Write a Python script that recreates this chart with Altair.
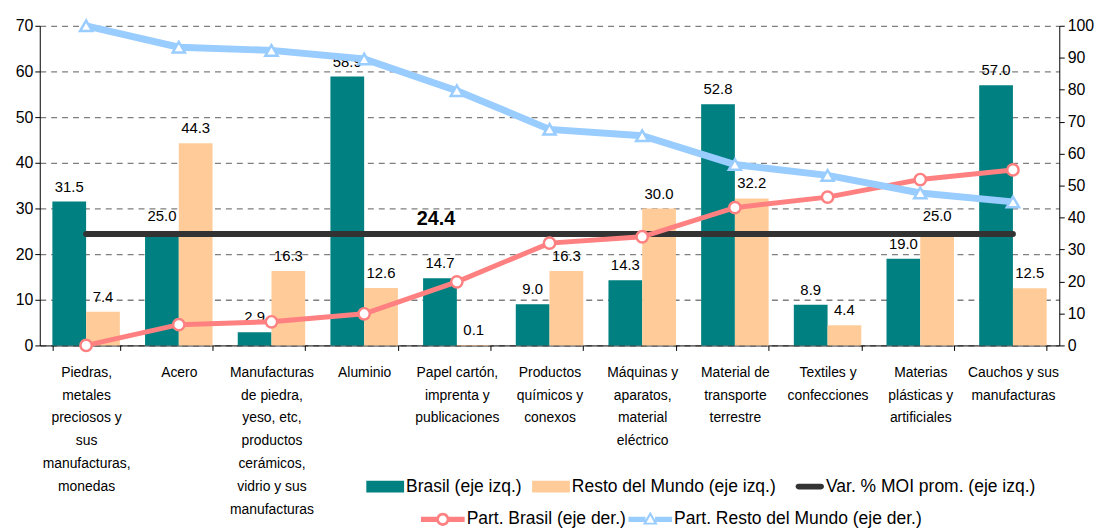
import altair as alt
import pandas as pd

FONT = "Liberation Sans, Arial, sans-serif"

cats = [
    "Piedras,\nmetales\npreciosos y\nsus\nmanufacturas,\nmonedas",
    "Acero",
    "Manufacturas\nde piedra,\nyeso, etc,\nproductos\ncerámicos,\nvidrio y sus\nmanufacturas",
    "Aluminio",
    "Papel cartón,\nimprenta y\npublicaciones",
    "Productos\nquímicos y\nconexos",
    "Máquinas y\naparatos,\nmaterial\neléctrico",
    "Material de\ntransporte\nterrestre",
    "Textiles y\nconfecciones",
    "Materias\nplásticas y\nartificiales",
    "Cauchos y sus\nmanufacturas",
]
brasil = [31.5, 25.0, 2.9, 58.9, 14.7, 9.0, 14.3, 52.8, 8.9, 19.0, 57.0]
resto = [7.4, 44.3, 16.3, 12.6, 0.1, 16.3, 30.0, 32.2, 4.4, 25.0, 12.5]
part_brasil = [0.0, 6.5, 7.4, 9.9, 19.9, 32.0, 34.0, 43.1, 46.4, 51.9, 54.9]
part_resto = [100.0, 93.3, 92.3, 89.6, 79.7, 67.6, 65.6, 56.6, 53.2, 47.7, 44.9]
mean_var = 24.4

bar_names = ["Brasil (eje izq.)", "Resto del Mundo (eje izq.)"]
mean_name = "Var. % MOI prom. (eje izq.)"
line_names = ["Part. Brasil (eje der.)", "Part. Resto del Mundo (eje der.)"]

TEAL = "#008080"
ORANGE = "#FFCC99"
DARK = "#333333"
RED = "#FF8080"
BLUE = "#99CCFF"

bars_df = pd.DataFrame(
    [{"cat": c, "serie": bar_names[0], "value": v} for c, v in zip(cats, brasil)]
    + [{"cat": c, "serie": bar_names[1], "value": v} for c, v in zip(cats, resto)]
)
mean_df = pd.DataFrame({"cat": cats, "mean": [mean_var] * len(cats)})
mean_lbl_df = pd.DataFrame({"cat": [cats[4]], "mean": [mean_var]})
lines_df = pd.DataFrame(
    [{"cat": c, "serie": line_names[0], "value": v} for c, v in zip(cats, part_brasil)]
    + [{"cat": c, "serie": line_names[1], "value": v} for c, v in zip(cats, part_resto)]
)
legA_df = pd.DataFrame({"serie": bar_names + [mean_name]})
legB_df = pd.DataFrame({"serie": line_names})

rect_path = "M-0.73,-0.27H1V0.27H-0.73Z"
mean_path = "M-0.17,-0.13H0.87A0.13,0.13 0 0 1 0.87,0.13H-0.17A0.13,0.13 0 0 1 -0.17,-0.13Z"
circ_path = ("M-1,-0.12H-0.25V0.12H-1Z M0.25,-0.12H1V0.12H0.25Z "
             "M0.3,0A0.3,0.3 0 1,1 -0.3,0A0.3,0.3 0 1,1 0.3,0Z "
             "M0.18,0A0.18,0.18 0 1,0 -0.18,0A0.18,0.18 0 1,0 0.18,0Z")
tri_path = ("M-1,-0.12H-0.22V0.12H-1Z M0.22,-0.12H1V0.12H0.22Z "
            "M0,-0.36L0.34,0.24H-0.34Z M0,-0.16L-0.18,0.15H0.18Z")

xscale = alt.Scale(paddingInner=0.272, paddingOuter=0.136)
x_axis = alt.Axis(
    title=None, labelAngle=0, labelExpr="split(datum.label, '\\n')",
    labelFont=FONT, labelFontSize=14, labelLineHeight=23, labelPadding=15,
    labelColor="#000", labelLimit=0, tickBand="extent", tickSize=5,
    tickColor="#000", domainColor="#000", domainWidth=1,
)
X = alt.X("cat:N", sort=cats, scale=xscale, axis=x_axis)

yl_scale = alt.Scale(domain=[0, 70], nice=False)
yl_axis = alt.Axis(
    title=None, values=list(range(0, 71, 10)), grid=True, gridDash=[6, 5],
    gridColor="#7f7f7f", gridWidth=1.3, domainColor="#000", tickColor="#000",
    tickSize=5, labelFont=FONT, labelFontSize=16, labelColor="#000", labelPadding=2,
)
yr_scale = alt.Scale(domain=[0, 100], nice=False)
yr_axis = alt.Axis(
    orient="right", title=None, values=list(range(0, 101, 10)), grid=False,
    domainColor="#000", tickColor="#000", tickSize=5, labelFont=FONT,
    labelFontSize=16, labelColor="#000", labelPadding=3,
)

colorA = alt.Scale(domain=bar_names + [mean_name], range=[TEAL, ORANGE, DARK])
shapeA = alt.Scale(domain=bar_names + [mean_name], range=[rect_path, rect_path, mean_path])
colorB = alt.Scale(domain=line_names, range=[RED, BLUE])
shapeB = alt.Scale(domain=line_names, range=[circ_path, tri_path])

leg_common = dict(
    title=None, orient="none", direction="horizontal", labelFont=FONT,
    labelFontSize=17.6, labelColor="#000", labelLimit=0, symbolSize=1936,
    symbolStrokeWidth=0, labelOffset=2, padding=0,
)
legA = alt.Legend(legendX=323, legendY=442, columns=3, columnPadding=4, **leg_common)
legB = alt.Legend(legendX=384, legendY=475, columns=2, columnPadding=2, **leg_common)

bars = alt.Chart(bars_df).mark_bar(opacity=1).encode(
    x=X,
    xOffset=alt.XOffset("serie:N", sort=bar_names),
    y=alt.Y("value:Q", stack=None, scale=yl_scale, axis=yl_axis),
    color=alt.Color("serie:N", scale=alt.Scale(domain=bar_names, range=[TEAL, ORANGE]), legend=None),
)
bar_labels = alt.Chart(bars_df).mark_text(
    baseline="bottom", dy=-7, font=FONT, fontSize=15, color="#000"
).encode(
    x=X,
    xOffset=alt.XOffset("serie:N", sort=bar_names),
    y=alt.Y("value:Q", stack=None, scale=yl_scale, axis=None),
    text=alt.Text("value:Q", format=".1f"),
)
mean_line = alt.Chart(mean_df).mark_line(
    color=DARK, strokeWidth=6, strokeCap="round"
).encode(
    x=X, y=alt.Y("mean:Q", scale=yl_scale, axis=None)
)
mean_label = alt.Chart(mean_lbl_df).mark_text(
    baseline="bottom", dx=-21, dy=-5, font=FONT, fontSize=20, fontWeight="bold", color="#000"
).encode(
    x=X, y=alt.Y("mean:Q", scale=yl_scale, axis=None),
    text=alt.Text("mean:Q", format=".1f"),
)
legA_layer = alt.Chart(legA_df).transform_filter("false").mark_point(
    filled=True, opacity=1, size=1936
).encode(
    color=alt.Color("serie:N", scale=colorA, legend=legA),
    shape=alt.Shape("serie:N", scale=shapeA, legend=legA),
)

def part_line(name, color, width, shape, size, axis):
    d = lines_df[lines_df["serie"] == name]
    ln = alt.Chart(d).mark_line(color=color, strokeWidth=width).encode(
        x=X, y=alt.Y("value:Q", scale=yr_scale, axis=axis)
    )
    pt = alt.Chart(d).mark_point(
        shape=shape, size=size, filled=True, fill="white", stroke=color,
        strokeWidth=2.5, opacity=1
    ).encode(x=X, y=alt.Y("value:Q", scale=yr_scale, axis=None))
    return [ln, pt]

legB_layer = alt.Chart(legB_df).transform_filter("false").mark_point(
    filled=True, opacity=1, size=1936
).encode(
    color=alt.Color("serie:N", scale=colorB, legend=legB),
    shape=alt.Shape("serie:N", scale=shapeB, legend=legB),
)

chart = alt.layer(
    bars, bar_labels, mean_line, mean_label, legA_layer,
    *part_line(line_names[0], RED, 5, "circle", 130, yr_axis),
    *part_line(line_names[1], BLUE, 7, "triangle-up", 150, None),
    legB_layer,
).resolve_scale(
    y="independent", color="independent", shape="independent"
).properties(
    width=1027, height=322,
    autosize=alt.AutoSizeParams(type="none"),
    padding={"left": 32, "top": 16, "right": 37, "bottom": 183},
    background="white",
).configure_view(stroke=None)

chart.save("out.html", embed_options={"renderer": "svg", "actions": False})
